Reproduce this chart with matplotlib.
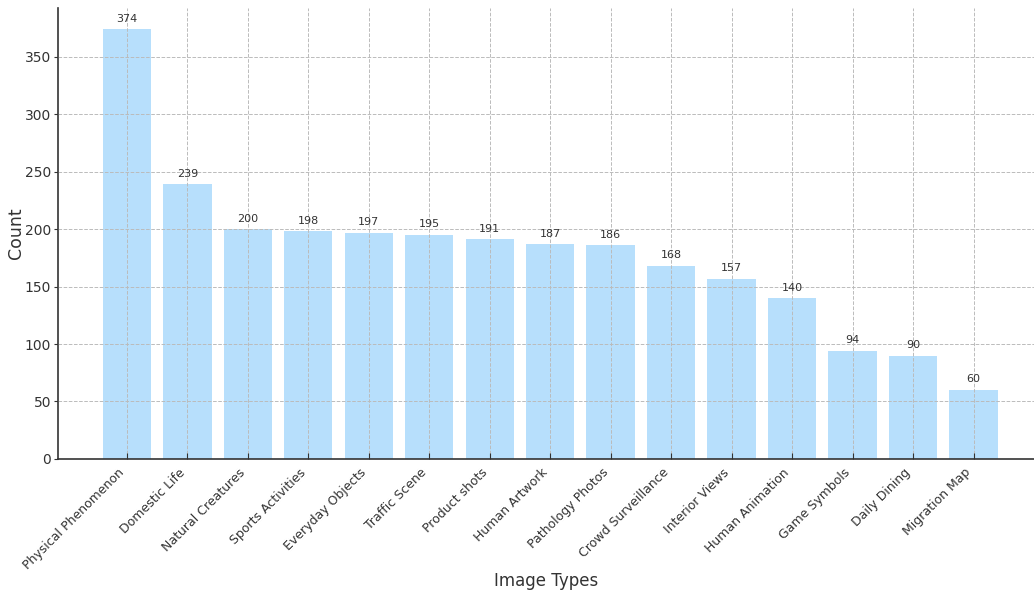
import matplotlib
matplotlib.use("Agg")
import matplotlib.pyplot as plt

image_types = ["Physical Phenomenon", "Domestic Life", "Natural Creatures", "Sports Activities",
               "Everyday Objects", "Traffic Scene", "Product shots", "Human Artwork",
               "Pathology Photos", "Crowd Surveillance", "Interior Views", "Human Animation",
               "Game Symbols", "Daily Dining", "Migration Map"]
counts = [374, 239, 200, 198, 197, 195, 191, 187, 186, 168, 157, 140, 94, 90, 60]

text_col = "#333333"
fig = plt.figure(figsize=(10.34, 5.96), dpi=100)
ax = fig.add_axes([0.056, 0.23, 0.944, 0.757])

x = range(len(image_types))
bars = ax.bar(x, counts, width=0.8, color="#b7dffc")

for b, c in zip(bars, counts):
    ax.annotate(str(c), (b.get_x() + b.get_width() / 2, b.get_height()),
                xytext=(0, 4), textcoords="offset points",
                ha="center", va="bottom", fontsize=8, color=text_col)

ax.set_xlim(-1.14, 15.0)
ax.set_ylim(0, 392.7)
ax.set_xticks(list(x))
ax.set_xticklabels(image_types, rotation=45, ha="right", fontsize=9, color=text_col)
ax.tick_params(axis="x", direction="in", length=4, pad=5, color=text_col)
ax.tick_params(axis="y", labelsize=10, labelcolor=text_col, length=3, pad=2, color=text_col)
ax.set_xlabel("Image Types", fontsize=12, color=text_col)
ax.set_ylabel("Count", fontsize=12.5, color=text_col)
ax.xaxis.set_label_coords(0.5, -0.25)
ax.yaxis.set_label_coords(-0.034, 0.5)

ax.grid(True, linestyle="--", color="#bbbbbb", linewidth=0.7)
ax.set_axisbelow(False)
for s in ["top", "right"]:
    ax.spines[s].set_visible(False)
for s in ["left", "bottom"]:
    ax.spines[s].set_color(text_col)
    ax.spines[s].set_linewidth(1.2)

fig.savefig("out.png", dpi=100)
